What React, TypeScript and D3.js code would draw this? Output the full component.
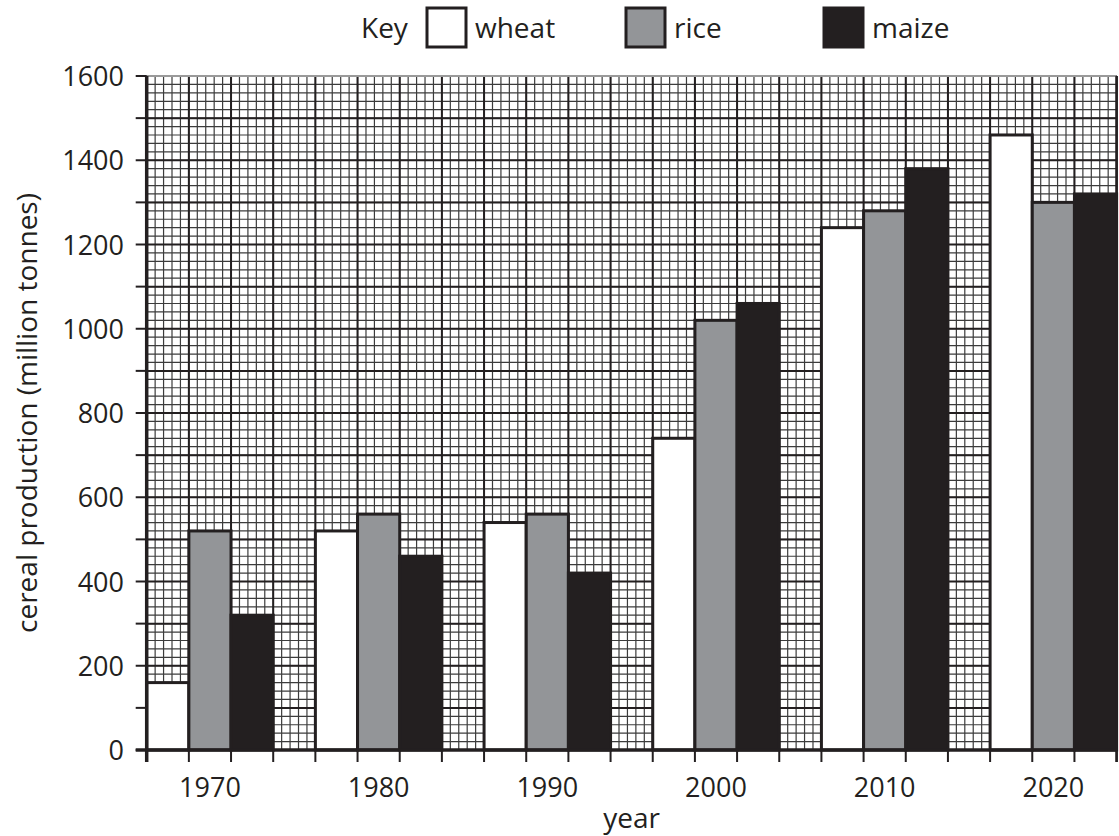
import { useEffect, useRef } from 'react';
import * as d3 from 'd3';

// Données
const years = ['1970', '1980', '1990', '2000', '2010', '2020'];
const series = ['wheat', 'rice', 'maize'];
const wheat = [160, 520, 540, 740, 1240, 1460];
const rice = [520, 560, 560, 1020, 1280, 1300];
const maize = [320, 460, 420, 1060, 1380, 1320];
const yTicks = [0, 200, 400, 600, 800, 1000, 1200, 1400, 1600];

const fills: Record<string, string> = { wheat: '#ffffff', rice: '#939598', maize: '#231f20' };
const INK = '#231f20';
const FONT = '"Open Sans", "DejaVu Sans", sans-serif';

export default function App() {
    const svgRef = useRef<SVGSVGElement>(null);

    useEffect(() => {
        if (!svgRef.current) return;
        const svg = d3.select(svgRef.current);
        svg.selectAll('*').remove();

        const left = 146.7;
        const unit = 42.17; // largeur d'une barre = 100 unités verticales
        const right = left + 23 * unit;
        const top = 76;
        const bottom = 750;

        // 1. Échelles
        const y = d3.scaleLinear().domain([0, 1600]).range([bottom, top]);
        const x0 = d3.scaleBand<string>()
            .domain(years)
            .range([left, right])
            .paddingInner(0.25)
            .paddingOuter(0);
        const x1 = d3.scaleBand<string>().domain(series).range([0, x0.bandwidth()]);
        const xu = d3.scaleLinear().domain([0, 23]).range([left, right]);

        // 2. Papier millimétré
        const grid = svg.append('g');
        const minorX = d3.range(0, 23 * 5 + 1).map(i => xu(i / 5));
        const minorY = d3.range(0, 16 * 5 + 1).map(i => y(i * 20));
        grid.selectAll('.vmin').data(minorX).enter().append('line')
            .attr('x1', d => d).attr('x2', d => d)
            .attr('y1', top).attr('y2', bottom)
            .attr('stroke', '#3c3c3c').attr('stroke-width', 1.2);
        grid.selectAll('.hmin').data(minorY).enter().append('line')
            .attr('x1', left).attr('x2', right)
            .attr('y1', d => d).attr('y2', d => d)
            .attr('stroke', '#3c3c3c').attr('stroke-width', 1.2);
        grid.selectAll('.vmaj').data(d3.range(0, 24)).enter().append('line')
            .attr('x1', d => xu(d)).attr('x2', d => xu(d))
            .attr('y1', top).attr('y2', bottom)
            .attr('stroke', INK).attr('stroke-width', 2);
        grid.selectAll('.hmaj').data(d3.range(0, 1601, 100)).enter().append('line')
            .attr('x1', left).attr('x2', right)
            .attr('y1', d => y(d)).attr('y2', d => y(d))
            .attr('stroke', INK).attr('stroke-width', 2);
        grid.append('line')
            .attr('x1', left).attr('x2', right).attr('y1', top).attr('y2', top)
            .attr('stroke', '#9a9a9a').attr('stroke-width', 2);

        // 3. Barres
        const values: Record<string, number[]> = { wheat, rice, maize };
        const g = svg.append('g');
        years.forEach((yr, i) => {
            series.forEach(s => {
                const v = values[s][i];
                g.append('rect')
                    .attr('x', (x0(yr) ?? 0) + (x1(s) ?? 0))
                    .attr('y', y(v))
                    .attr('width', x1.bandwidth())
                    .attr('height', y(0) - y(v))
                    .attr('fill', fills[s])
                    .attr('stroke', INK)
                    .attr('stroke-width', 3);
            });
        });

        // 4. Axes
        const ax = svg.append('g').attr('stroke', INK);
        ax.append('line').attr('x1', left).attr('x2', left).attr('y1', top).attr('y2', bottom + 12)
            .attr('stroke-width', 3.5);
        ax.append('line').attr('x1', left - 11).attr('x2', right).attr('y1', bottom).attr('y2', bottom)
            .attr('stroke-width', 3.5);
        ax.append('line').attr('x1', right).attr('x2', right).attr('y1', top).attr('y2', bottom + 12)
            .attr('stroke-width', 2.5);
        ax.selectAll('.yt').data(d3.range(0, 1601, 100)).enter().append('line')
            .attr('x1', left - 11).attr('x2', left)
            .attr('y1', d => y(d)).attr('y2', d => y(d))
            .attr('stroke-width', 2);
        ax.selectAll('.xt').data(d3.range(0, 24)).enter().append('line')
            .attr('x1', d => xu(d)).attr('x2', d => xu(d))
            .attr('y1', bottom).attr('y2', bottom + 12)
            .attr('stroke-width', 2);

        const txt = svg.append('g')
            .attr('font-family', FONT).attr('font-size', 28).attr('fill', INK);
        txt.selectAll('.yl').data(yTicks).enter().append('text')
            .attr('x', 124).attr('y', d => y(d) + 10)
            .attr('text-anchor', 'end')
            .attr('font-size', 27)
            .text(d => d);
        txt.selectAll('.xl').data(years).enter().append('text')
            .attr('x', d => (x0(d) ?? 0) + x0.bandwidth() / 2)
            .attr('y', 797)
            .attr('text-anchor', 'middle')
            .attr('font-size', 27)
            .text(d => d);
        txt.append('text')
            .attr('x', (left + right) / 2).attr('y', 828)
            .attr('text-anchor', 'middle')
            .text('year');
        txt.append('text')
            .attr('transform', `translate(37,${(top + bottom) / 2}) rotate(-90)`)
            .attr('text-anchor', 'middle')
            .text('cereal production (million tonnes)');

        // 5. Légende
        const keyX = [427, 626, 824];
        txt.append('text').attr('x', 361).attr('y', 38).text('Key');
        series.forEach((s, i) => {
            txt.append('rect')
                .attr('x', keyX[i]).attr('y', 8).attr('width', 39).attr('height', 39)
                .attr('fill', fills[s]).attr('stroke', INK).attr('stroke-width', 3);
            txt.append('text')
                .attr('x', keyX[i] + 48).attr('y', 38)
                .text(s);
        });
    }, []);

    return (
        <svg
            ref={svgRef}
            width={1119}
            height={836}
            style={{ position: 'absolute', left: 0, top: 0, background: '#fff' }}
        />
    );
}
